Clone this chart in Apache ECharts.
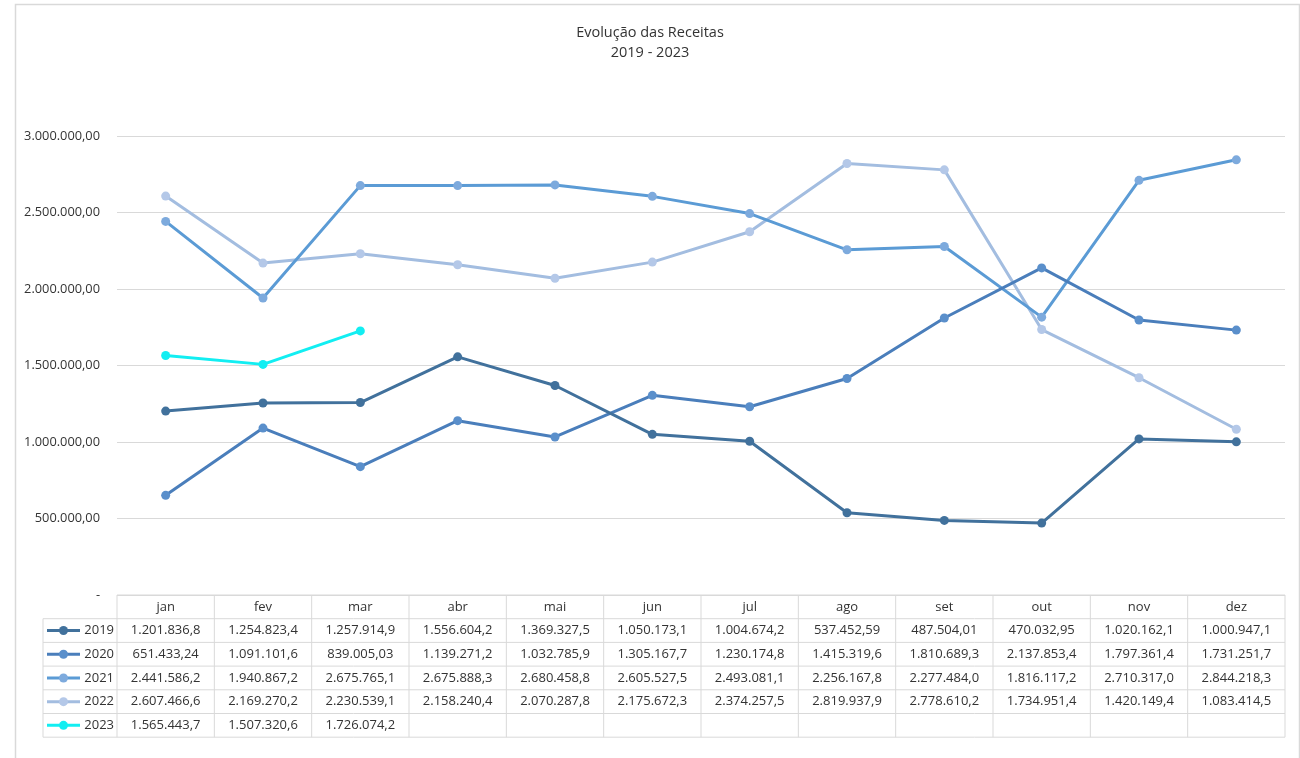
<!DOCTYPE html>
<html><head><meta charset="utf-8">
<script src="https://cdn.jsdelivr.net/npm/echarts@6/dist/echarts.min.js"></script>
<style>html,body{margin:0;padding:0;background:#fff}#c{width:1300px;height:758px}</style>
</head><body><div id="c"></div>
<script>
var months = ['jan','fev','mar','abr','mai','jun','jul','ago','set','out','nov','dez'];
var years = ['2019','2020','2021','2022','2023'];
var s2019 = [1201836.8,1254823.4,1257914.9,1556604.2,1369327.5,1050173.1,1004674.2,537452.59,487504.01,470032.95,1020162.1,1000947.1];
var s2020 = [651433.24,1091101.6,839005.03,1139271.2,1032785.9,1305167.7,1230174.8,1415319.6,1810689.3,2137853.4,1797361.4,1731251.7];
var s2021 = [2441586.2,1940867.2,2675765.1,2675888.3,2680458.8,2605527.5,2493081.1,2256167.8,2277484.0,1816117.2,2710317.0,2844218.3];
var s2022 = [2607466.6,2169270.2,2230539.1,2158240.4,2070287.8,2175672.3,2374257.5,2819937.9,2778610.2,1734951.4,1420149.4,1083414.5];
var s2023 = [1565443.7,1507320.6,1726074.2];
var yTicks = [0,500000,1000000,1500000,2000000,2500000,3000000];

var seriesData = [s2019,s2020,s2021,s2022,s2023];
var lineColors = ['#41719c','#4a7ebb','#5b9bd5','#a3bde0','#12eef2'];
var markColors = ['#41719c','#5a8fcb','#7daadd','#b4c8e8','#12eef2'];
var FONT = 'Open Sans';
var TXT = '#333333';

function fmtNum(v, dec){
  var s = v.toFixed(dec);
  var parts = s.split('.');
  var ip = parts[0].replace(/\B(?=(\d{3})+(?!\d))/g,'.');
  return parts.length>1 ? ip + ',' + parts[1] : ip;
}
function fmtCell(v){
  var digits = Math.floor(Math.abs(v)).toString().length;
  return fmtNum(v, Math.max(0, 8 - digits));
}

var chart = echarts.init(document.getElementById('c'));
var series = years.map(function(y,i){
  return {
    name: y, type:'line', data: seriesData[i],
    symbol:'circle', symbolSize:9,
    lineStyle:{color:lineColors[i], width:3},
    itemStyle:{color:markColors[i]},
    emphasis:{disabled:true}, animation:false, z: 10 - i
  };
});
chart.setOption({
  animation:false,
  title:{text:'Evolução das Receitas\n2019 - 2023', left:'center', top:18,
    textStyle:{fontFamily:FONT, fontSize:14.5, fontWeight:'normal', color:TXT, lineHeight:20}},
  grid:{left:117, right:15, top:136, bottom:163, containLabel:false},
  xAxis:{type:'category', data:months, boundaryGap:true,
    axisLine:{show:false}, axisTick:{show:false}, axisLabel:{show:false}},
  yAxis:{type:'value', min:yTicks[0], max:yTicks[yTicks.length-1], interval:500000,
    axisLine:{show:false}, axisTick:{show:false},
    splitLine:{lineStyle:{color:'#d9d9d9', width:1}},
    axisLabel:{margin:17, fontFamily:FONT, fontSize:12.8, color:TXT,
      formatter:function(v){ return v===0 ? '-' : fmtNum(v,2); }}},
  series: series
});

function buildTable(){
  var els = [];
  var cx = months.map(function(m,i){ return chart.convertToPixel({xAxisIndex:0}, i); });
  var cw = cx.length>1 ? cx[1]-cx[0] : 97;
  var xL = cx[0] - cw/2, xR = cx[cx.length-1] + cw/2;
  var yTop = chart.convertToPixel({yAxisIndex:0}, 0);
  var rowH = 23.7;
  var legL = 43;
  var border = {stroke:'#d9d9d9', lineWidth:1};
  var nRows = years.length;
  var yBot = yTop + rowH*(nRows+1);
  var font = '13px "'+FONT+'"';
  els.push({type:'line', shape:{x1:xL,y1:yTop,x2:xR,y2:yTop}, style:border, silent:true});
  for (var r=1;r<=nRows+1;r++){
    var yy = yTop + rowH*r;
    els.push({type:'line', shape:{x1:legL,y1:yy,x2:xR,y2:yy}, style:border, silent:true});
  }
  els.push({type:'line', shape:{x1:legL,y1:yTop+rowH,x2:legL,y2:yBot}, style:border, silent:true});
  for (var c=0;c<=months.length;c++){
    var xx = xL + cw*c;
    els.push({type:'line', shape:{x1:xx,y1:yTop,x2:xx,y2:yBot}, style:border, silent:true});
  }
  months.forEach(function(m,i){
    els.push({type:'text', x:cx[i], y:yTop+rowH/2, silent:true,
      style:{text:m, font:font, fill:TXT, align:'center', verticalAlign:'middle'}});
  });
  years.forEach(function(yname,r){
    var yc = yTop + rowH*(r+1) + rowH/2;
    els.push({type:'line', shape:{x1:legL+4,y1:yc,x2:legL+37,y2:yc}, silent:true,
      style:{stroke:lineColors[r], lineWidth:3}});
    els.push({type:'circle', shape:{cx:legL+20.5,cy:yc,r:4.5}, silent:true,
      style:{fill:markColors[r]}});
    els.push({type:'text', x:xL-3, y:yc, silent:true,
      style:{text:yname, font:font, fill:TXT, align:'right', verticalAlign:'middle'}});
    seriesData[r].forEach(function(v,i){
      els.push({type:'text', x:cx[i], y:yc, silent:true,
        style:{text:fmtCell(v), font:font, fill:TXT, align:'center', verticalAlign:'middle'}});
    });
  });
  els.push({type:'rect', shape:{x:15.5,y:4.5,width:1284,height:800}, silent:true,
    style:{fill:'none', stroke:'#d9d9d9', lineWidth:1.5}});
  chart.setOption({graphic:{elements:els}});
}
buildTable();
</script>
</body></html>
